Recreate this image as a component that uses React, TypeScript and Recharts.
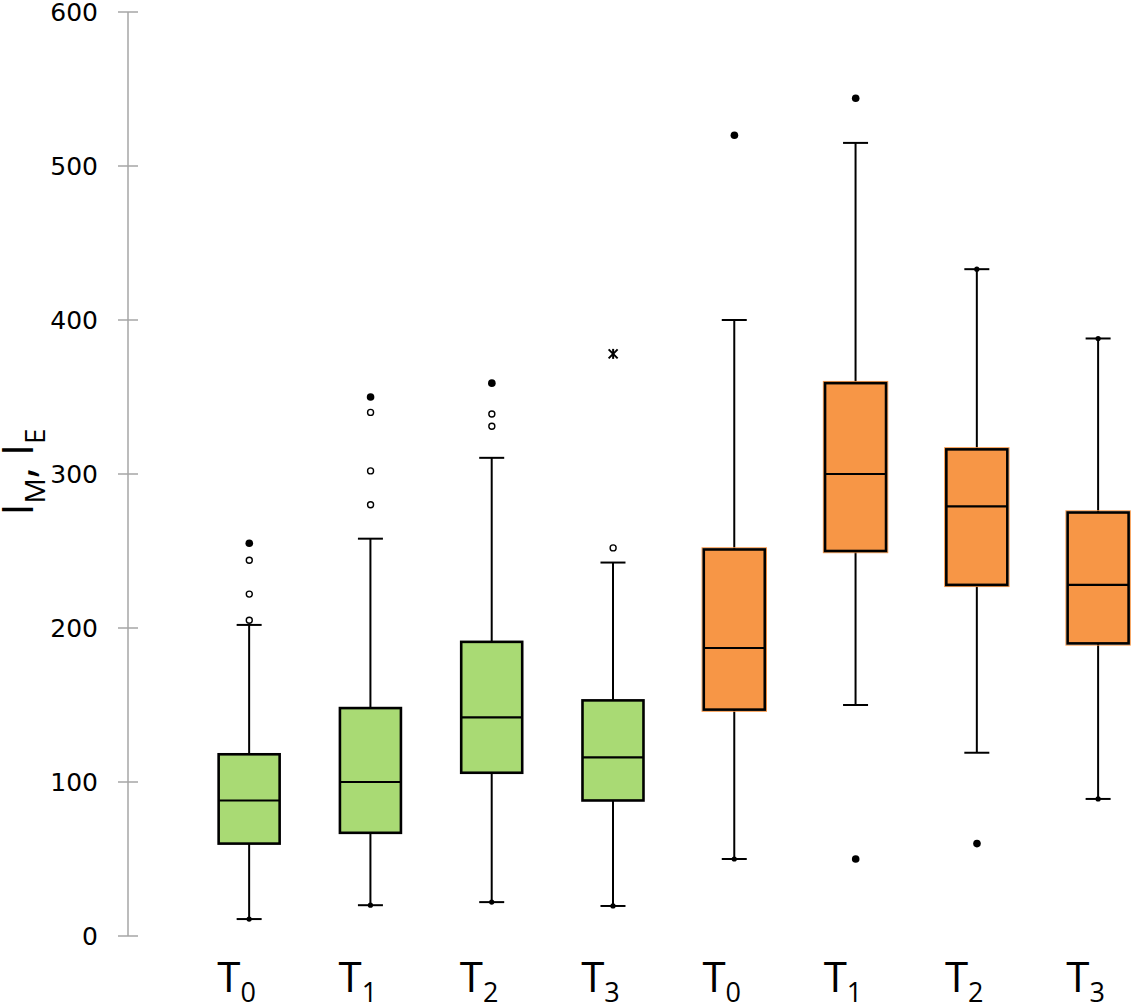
import React from 'react';
import { ComposedChart, Bar, Scatter, XAxis, YAxis } from 'recharts';

// ---- data ----
const categories = ['T0', 'T1', 'T2', 'T3', 'T0', 'T1', 'T2', 'T3'];
const tickBase = ['T', 'T', 'T', 'T', 'T', 'T', 'T', 'T'];
const tickSubs = ['0', '1', '2', '3', '0', '1', '2', '3'];
const groups = ['M', 'M', 'M', 'M', 'E', 'E', 'E', 'E'];
const whiskerLow = [11, 20, 22, 19.5, 50, 150, 119, 89];
const q1 = [60, 67, 106, 88, 147, 250, 228, 190];
const median = [88, 100, 142, 116, 187, 300, 279, 228];
const q3 = [118, 148, 191, 153, 251, 359, 316, 275];
const whiskerHigh = [202, 258, 310.5, 242.5, 400, 515, 433, 388];
const lowEndMark = [true, true, true, true, true, false, false, true];
const highEndMark = [false, false, false, false, false, false, true, true];

const outlierCategory = [0, 0, 0, 0, 1, 1, 1, 1, 2, 2, 2, 3, 3, 4, 5, 5, 6];
const outlierValue = [255, 244, 222, 205, 350, 340, 302, 280, 359, 339, 331, 378, 252, 520, 544, 50, 60];
const outlierKind = ['filled', 'open', 'open', 'open', 'filled', 'open', 'open', 'open', 'filled', 'open', 'open', 'star', 'open', 'filled', 'filled', 'filled', 'filled'];

const yTicks = [0, 100, 200, 300, 400, 500, 600];
const xTicks = [0, 1, 2, 3, 4, 5, 6, 7];

const groupColors: Record<string, string> = { M: '#A9DA74', E: '#F79646' };

// ---- tables built from the arrays ----
const boxRows = categories.map((c, i) => ({
  x: i,
  name: c,
  group: groups[i],
  low: whiskerLow[i],
  q1: q1[i],
  median: median[i],
  q3: q3[i],
  high: whiskerHigh[i],
  lowMark: lowEndMark[i],
  highMark: highEndMark[i],
  range: [whiskerLow[i], whiskerHigh[i]],
}));

const outlierRows = outlierCategory.map((c, i) => ({
  x: c,
  y: outlierValue[i],
  kind: outlierKind[i],
}));

const BoxShape = (props: any) => {
  const { x, y, width, height, payload } = props;
  if (payload == null || x == null) return null;
  const top = Math.min(y, y + height);
  const h = Math.abs(height);
  const span = payload.high - payload.low;
  const py = (v: number) => top + ((payload.high - v) / span) * h;
  const cx = x + width / 2;
  const capHalf = 12.5;
  const fill = groupColors[payload.group];
  const yHigh = py(payload.high);
  const yLow = py(payload.low);
  const yQ3 = py(payload.q3);
  const yQ1 = py(payload.q1);
  const yMed = py(payload.median);
  return (
    <g>
      <line x1={cx} x2={cx} y1={yHigh} y2={yQ3} stroke="#000" strokeWidth={2} />
      <line x1={cx} x2={cx} y1={yQ1} y2={yLow} stroke="#000" strokeWidth={2} />
      <line x1={cx - capHalf} x2={cx + capHalf} y1={yHigh} y2={yHigh} stroke="#000" strokeWidth={2} />
      <line x1={cx - capHalf} x2={cx + capHalf} y1={yLow} y2={yLow} stroke="#000" strokeWidth={2} />
      {payload.group === 'E' && (
        <rect x={x - 1.7} y={yQ3 - 1.7} width={width + 3.4} height={yQ1 - yQ3 + 3.4} fill="none" stroke={fill} strokeWidth={1} />
      )}
      <rect x={x} y={yQ3} width={width} height={yQ1 - yQ3} fill={fill} stroke="#000" strokeWidth={2.6} />
      <line x1={x} x2={x + width} y1={yMed} y2={yMed} stroke="#000" strokeWidth={2.2} />
      {payload.lowMark && <circle cx={cx} cy={yLow} r={2.6} fill="#000" />}
      {payload.highMark && <circle cx={cx} cy={yHigh} r={2.6} fill="#000" />}
    </g>
  );
};

const OutlierShape = (props: any) => {
  const { cx, cy, payload } = props;
  if (cx == null || cy == null) return null;
  if (payload.kind === 'filled') {
    return <circle cx={cx} cy={cy} r={3.8} fill="#000" />;
  }
  if (payload.kind === 'open') {
    return <circle cx={cx} cy={cy} r={3} fill="#fff" stroke="#000" strokeWidth={1.4} />;
  }
  const s = 4.5;
  return (
    <g stroke="#000" strokeWidth={2}>
      <line x1={cx - s} y1={cy - s} x2={cx + s} y2={cy + s} />
      <line x1={cx - s} y1={cy + s} x2={cx + s} y2={cy - s} />
      <line x1={cx} y1={cy - s - 0.5} x2={cx} y2={cy + s + 0.5} />
    </g>
  );
};

const YTick = (props: any) => {
  const { x, y, payload } = props;
  return (
    <g>
      <line x1={x - 10} x2={x + 10} y1={y} y2={y} stroke="#A6A6A6" strokeWidth={1.5} />
      <text x={x - 30} y={y} dy={9} textAnchor="end" fontFamily="DejaVu Sans" fontSize={25} fill="#000">
        {payload.value}
      </text>
    </g>
  );
};

const XTick = (props: any) => {
  const { x, y, payload } = props;
  const i = payload.value as number;
  return (
    <text x={x - 32} y={y + 56} textAnchor="start" fontFamily="Open Sans" fill="#000">
      <tspan fontSize={42}>{tickBase[i]}</tspan>
      <tspan fontSize={27} dy={10}>{tickSubs[i]}</tspan>
    </text>
  );
};

const YTitle = () => (
  <text transform="rotate(-90, 33, 472)" x={33} y={472} textAnchor="middle" fontFamily="Open Sans" fill="#000">
    <tspan fontSize={43}>I</tspan>
    <tspan fontSize={28} dy={12}>M</tspan>
    <tspan fontSize={43} dy={-12}>, I</tspan>
    <tspan fontSize={28} dy={12}>E</tspan>
  </text>
);

export default function App() {
  return (
    <div style={{ position: 'absolute', left: 0, top: 0, width: 1131, height: 1006, background: '#fff' }}>
      <ComposedChart width={1131} height={1006} data={boxRows} margin={{ top: 12, right: 0, bottom: 0, left: 0 }}>
        <XAxis
          dataKey="x"
          type="number"
          domain={[-1, 7.27]}
          allowDataOverflow
          ticks={xTicks}
          interval={0}
          axisLine={false}
          tickLine={false}
          tickSize={0}
          tickMargin={0}
          tick={<XTick />}
          height={70}
        />
        <YAxis
          type="number"
          domain={[0, 600]}
          ticks={yTicks}
          interval={0}
          width={128}
          axisLine={{ stroke: '#A6A6A6', strokeWidth: 1.5 }}
          tickLine={false}
          tickSize={0}
          tickMargin={0}
          tick={<YTick />}
          label={<YTitle />}
          allowDataOverflow
        />
        <Bar dataKey="range" barSize={61} shape={<BoxShape />} isAnimationActive={false} />
        <Scatter data={outlierRows} dataKey="y" shape={<OutlierShape />} isAnimationActive={false} />
      </ComposedChart>
    </div>
  );
}
